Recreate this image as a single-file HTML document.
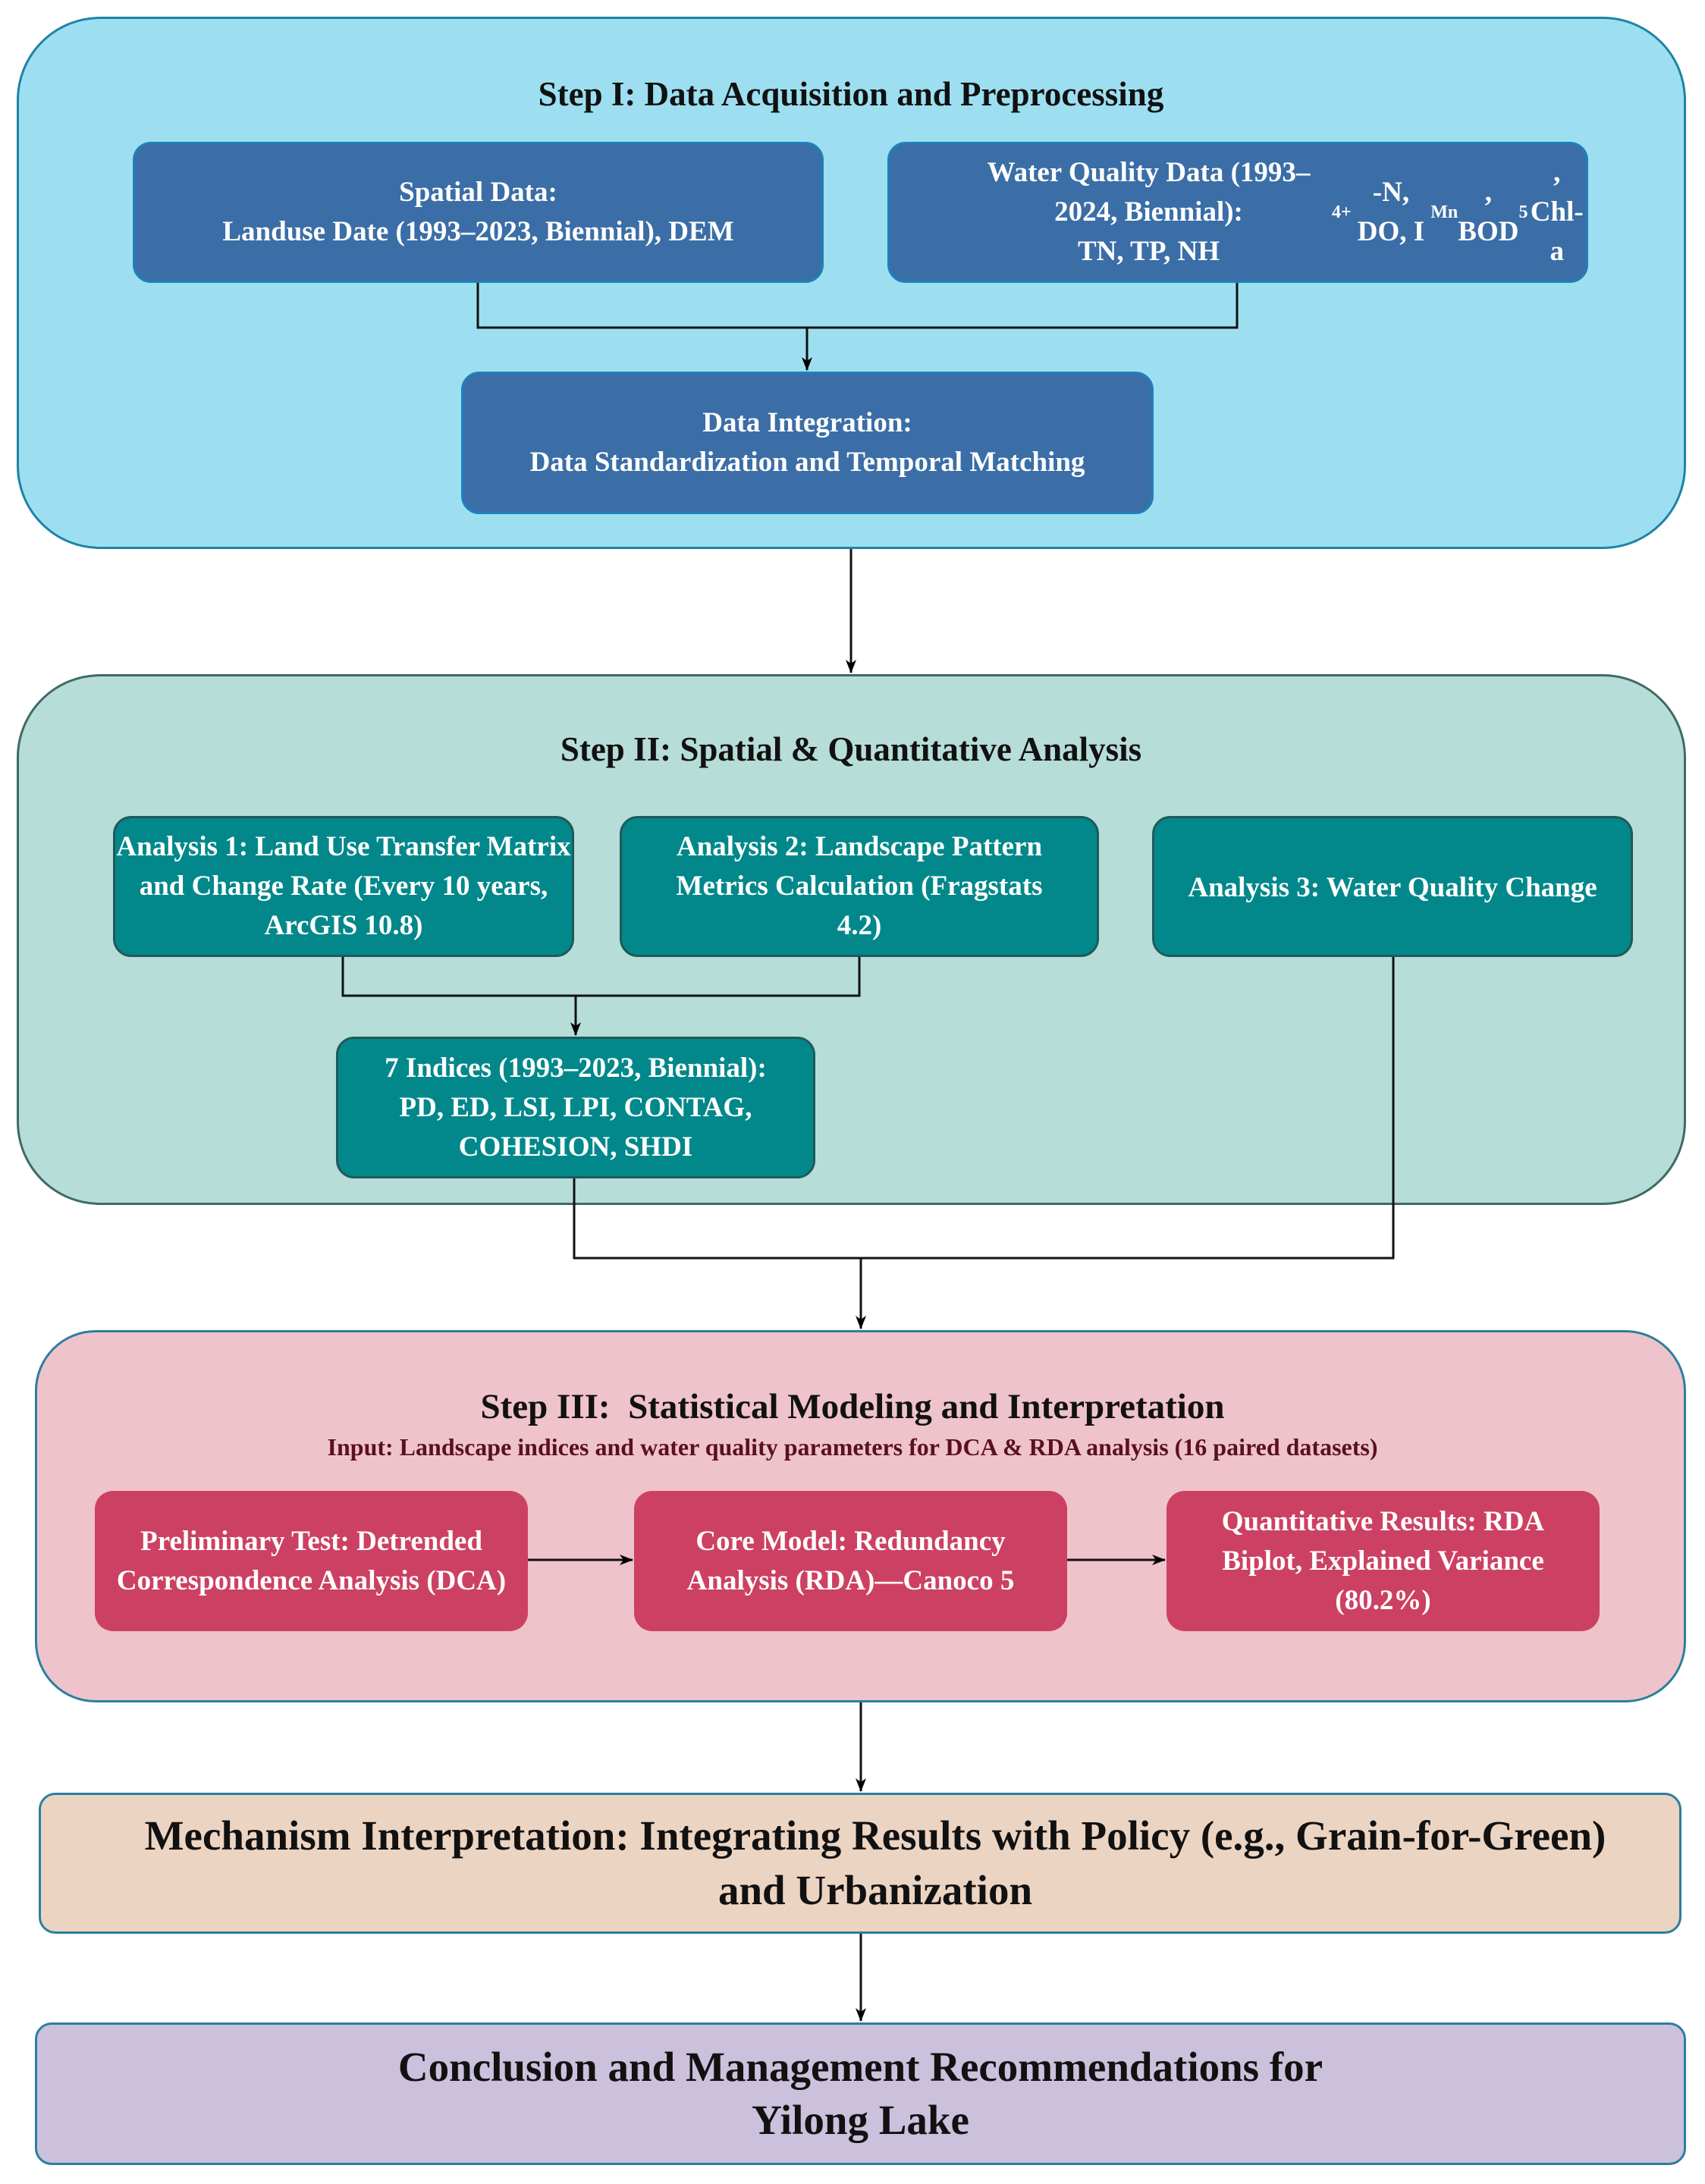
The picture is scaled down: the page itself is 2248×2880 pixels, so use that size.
<!DOCTYPE html>
<html><head><meta charset="utf-8"><style>
body{margin:0;width:2248px;height:2880px;background:#fff;position:relative;overflow:hidden;font-family:"Liberation Serif",serif;font-weight:bold}
.b{position:absolute;box-sizing:border-box;display:flex;align-items:center;justify-content:center;text-align:center}
.t{position:absolute;left:0;width:2248px;text-align:center;color:#111}
.w{color:#fff;font-size:37px;line-height:52px}
svg{position:absolute;left:0;top:0}
</style></head><body>
<div class="b" style="left:22px;top:22px;width:2201px;height:702px;background:#9ddff1;border:3px solid #1d84a6;border-radius:110px"></div>
<div class="t" style="top:98px;font-size:45px;left:0;width:2244px">Step I: Data Acquisition and Preprocessing</div>
<div class="b w" style="left:175px;top:187px;width:911px;height:186px;background:#3b6ea6;border:3px solid #1f80b8;border-radius:24px">Spatial Data:<br>Landuse Date (1993–2023, Biennial), DEM</div>
<div class="b w" style="left:1170px;top:187px;width:924px;height:186px;background:#3b6ea6;border:3px solid #1f80b8;border-radius:24px;padding-left:100px">Water Quality Data (1993–2024, Biennial):<br>TN, TP, NH<sub style="font-size:24px">4</sub><sup style="font-size:24px">+</sup>-N, DO, I<sub style="font-size:24px">Mn</sub>, BOD<sub style="font-size:24px">5</sub>, Chl-a</div>
<div class="b w" style="left:608px;top:490px;width:913px;height:188px;background:#3b6ea6;border:3px solid #1f80b8;border-radius:24px">Data Integration:<br>Data Standardization and Temporal Matching</div>

<div class="b" style="left:22px;top:889px;width:2201px;height:700px;background:#b7ddd8;border:3px solid #3f6b66;border-radius:110px"></div>
<div class="t" style="top:962px;font-size:45px;width:2244px">Step II: Spatial &amp; Quantitative Analysis</div>
<div class="b w" style="left:149px;top:1076px;width:608px;height:186px;background:#02888b;border:3px solid #1f5a5a;border-radius:24px">Analysis 1: Land Use Transfer Matrix and Change Rate (Every 10 years, ArcGIS 10.8)</div>
<div class="b w" style="left:817px;top:1076px;width:632px;height:186px;background:#02888b;border:3px solid #1f5a5a;border-radius:24px;padding:0 40px">Analysis 2: Landscape Pattern Metrics Calculation (Fragstats 4.2)</div>
<div class="b w" style="left:1519px;top:1076px;width:634px;height:186px;background:#02888b;border:3px solid #1f5a5a;border-radius:24px;align-items:flex-start;padding-top:66px;white-space:nowrap">Analysis 3: Water Quality Change</div>
<div class="b w" style="left:443px;top:1367px;width:632px;height:187px;background:#02888b;border:3px solid #1f5a5a;border-radius:24px">7 Indices (1993–2023, Biennial):<br>PD, ED, LSI, LPI, CONTAG,<br>COHESION, SHDI</div>

<div class="b" style="left:46px;top:1754px;width:2177px;height:491px;background:#efc3cb;border:3px solid #2b7fa0;border-radius:80px"></div>
<div class="t" style="top:1828px;font-size:47px">Step III:&nbsp; Statistical Modeling and Interpretation</div>
<div class="t" style="top:1890px;font-size:32px;color:#5a1020">Input: Landscape indices and water quality parameters for DCA &amp; RDA analysis (16 paired datasets)</div>
<div class="b w" style="left:125px;top:1966px;width:571px;height:185px;background:#cc4163;border-radius:24px">Preliminary Test: Detrended Correspondence Analysis (DCA)</div>
<div class="b w" style="left:836px;top:1966px;width:571px;height:185px;background:#cc4163;border-radius:24px;padding:0 40px">Core Model: Redundancy Analysis (RDA)—Canoco 5</div>
<div class="b w" style="left:1538px;top:1966px;width:571px;height:185px;background:#cc4163;border-radius:24px;padding:0 30px">Quantitative Results: RDA Biplot, Explained Variance (80.2%)</div>

<div class="b" style="left:51px;top:2364px;width:2166px;height:186px;background:#ecd4c3;border:3px solid #2b7fa0;border-radius:22px;font-size:55px;line-height:72px;color:#111;padding-left:40px">Mechanism Interpretation: Integrating Results with Policy (e.g., Grain-for-Green)<br>and Urbanization</div>
<div class="b" style="left:46px;top:2667px;width:2177px;height:188px;background:#cbc1dc;border:3px solid #2b7fa0;border-radius:22px;font-size:55px;line-height:70px;color:#111;padding:0 430px">Conclusion and Management Recommendations for Yilong Lake</div>

<svg width="2248" height="2880">
<defs><marker id="a" markerWidth="10" markerHeight="10" refX="9" refY="5" orient="auto" markerUnits="userSpaceOnUse" viewBox="0 0 10 10"><path d="M0,0 L10,5 L0,10 L3,5z" fill="#000"/></marker>
<marker id="m" markerWidth="18" markerHeight="18" refX="17" refY="9" orient="auto" markerUnits="userSpaceOnUse" viewBox="0 0 18 18"><path d="M0,2 L18,9 L0,16 L5,9z" fill="#000"/></marker></defs>
<g stroke="#111" stroke-width="3" fill="none">
<polyline points="630,373 630,432 1631,432 1631,373"/>
<line x1="1064" y1="432" x2="1064" y2="488" marker-end="url(#m)"/>
<line x1="1122" y1="724" x2="1122" y2="887" marker-end="url(#m)"/>
<polyline points="452,1262 452,1313 1133,1313 1133,1262"/>
<line x1="759" y1="1313" x2="759" y2="1365" marker-end="url(#m)"/>
<polyline points="757,1554 757,1659 1837,1659 1837,1262"/>
<line x1="1135" y1="1659" x2="1135" y2="1752" marker-end="url(#m)"/>
<line x1="696" y1="2057" x2="834" y2="2057" marker-end="url(#m)"/>
<line x1="1407" y1="2057" x2="1536" y2="2057" marker-end="url(#m)"/>
<line x1="1135" y1="2245" x2="1135" y2="2362" marker-end="url(#m)"/>
<line x1="1135" y1="2550" x2="1135" y2="2665" marker-end="url(#m)"/>
</g></svg>
</body></html>
